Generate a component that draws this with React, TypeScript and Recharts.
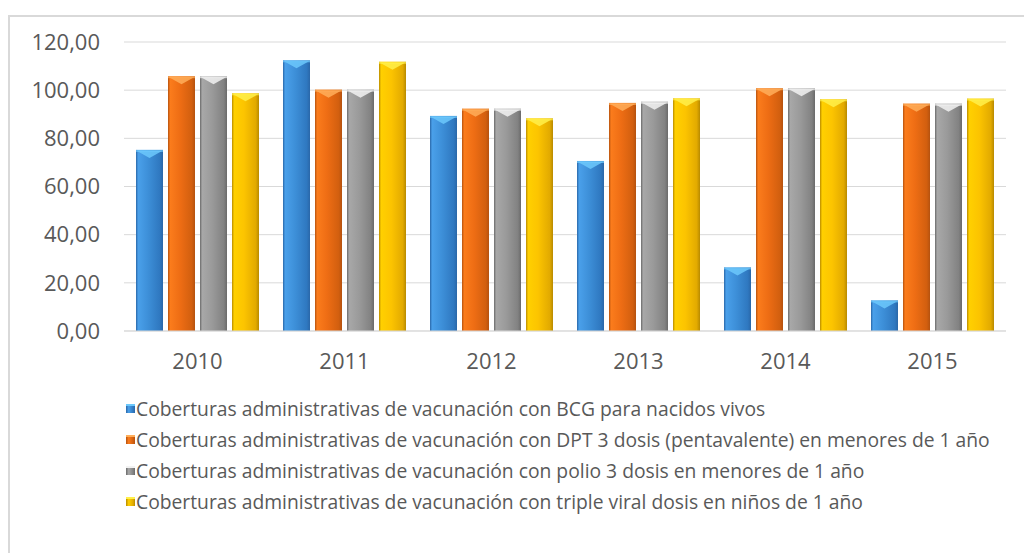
import React from 'react'
import { BarChart, Bar, XAxis, YAxis, CartesianGrid, Legend } from 'recharts'

const years = ['2010', '2011', '2012', '2013', '2014', '2015']
const bcg = [75.2, 112.4, 89.3, 70.6, 26.4, 12.7]
const dpt = [105.8, 100.2, 92.3, 94.7, 100.8, 94.4]
const polio = [105.8, 100.2, 92.3, 95.2, 100.8, 94.4]
const tripleViral = [98.7, 111.8, 88.3, 96.6, 96.2, 96.5]
const yTicks = [0, 20, 40, 60, 80, 100, 120]

const seriesNames = [
  'Coberturas administrativas de vacunación con BCG para nacidos vivos',
  'Coberturas administrativas de vacunación con DPT 3 dosis (pentavalente) en menores de 1 año',
  'Coberturas administrativas de vacunación con polio 3 dosis en menores de 1 año',
  'Coberturas administrativas de vacunación con triple viral dosis en niños de 1 año',
]

// edge, light, mid, dark, top highlight
const PALETTE = [
  { id: 'bcg', edge: '#2a67a8', light: '#4aa0ea', mid: '#3d8fd8', dark: '#2f78c0', top: '#6cc8fb' },
  { id: 'dpt', edge: '#b5520f', light: '#fb7c1c', mid: '#ee6d14', dark: '#d25f0f', top: '#ffae5a' },
  { id: 'polio', edge: '#6a6a6a', light: '#a8a8a8', mid: '#9a9a9a', dark: '#828282', top: '#f2f2f2' },
  { id: 'triple', edge: '#b88a00', light: '#ffd000', mid: '#fcc400', dark: '#e2aa00', top: '#fff04a' },
]

const data = years.map((year, i) => ({
  year,
  bcg: bcg[i],
  dpt: dpt[i],
  polio: polio[i],
  triple: tripleViral[i],
}))

const FONT = "'Open Sans', 'DejaVu Sans', sans-serif"
const TEXT = '#595959'

const fmt = (v: number) => v.toFixed(2).replace('.', ',')

function bevelBar(idx: number) {
  const c = PALETTE[idx]
  return (props: any) => {
    const { x, y, width, height } = props
    if (!height || height <= 0) return null
    const depth = Math.min(8, height)
    return (
      <g>
        <rect x={x} y={y} width={width} height={height} fill={`url(#grad-${c.id})`} />
        <polygon
          points={`${x + 1},${y + 1} ${x + width - 1},${y + 1} ${x + width / 2},${y + depth}`}
          fill={c.top}
          opacity={0.85}
        />
        <rect x={x} y={y} width={width} height={2} fill={c.top} opacity={0.7} />
      </g>
    )
  }
}

function LegendContent() {
  return (
    <div style={{ fontFamily: FONT, fontSize: 19.3, color: TEXT, paddingTop: 3 }}>
      {seriesNames.map((name, i) => (
        <div key={name} style={{ height: 31, display: 'flex', alignItems: 'center', whiteSpace: 'nowrap' }}>
          <div
            style={{
              width: 9,
              height: 9,
              marginRight: 1,
              background: `linear-gradient(to right, ${PALETTE[i].edge}, ${PALETTE[i].light} 30%, ${PALETTE[i].dark} 80%, ${PALETTE[i].edge})`,
              borderTop: `2px solid ${PALETTE[i].top}`,
              boxSizing: 'border-box',
            }}
          />
          <span>{name}</span>
        </div>
      ))}
    </div>
  )
}

export default function App() {
  return (
    <div
      style={{
        width: 1024,
        height: 538,
        marginTop: 7,
        borderTop: '2px solid #d9d9d9',
        borderLeft: '2px solid #d9d9d9',
        background: '#fff',
      }}
    >
      <BarChart
        width={1022}
        height={536}
        data={data}
        margin={{ top: 25, right: 26, left: 14, bottom: 32 }}
        barCategoryGap={12}
        barGap={5}
      >
        <defs>
          {PALETTE.map((c) => (
            <linearGradient key={c.id} id={`grad-${c.id}`} x1="0" y1="0" x2="1" y2="0">
              <stop offset="0%" stopColor={c.edge} />
              <stop offset="8%" stopColor={c.light} />
              <stop offset="45%" stopColor={c.mid} />
              <stop offset="88%" stopColor={c.dark} />
              <stop offset="100%" stopColor={c.edge} />
            </linearGradient>
          ))}
        </defs>
        <CartesianGrid vertical={false} stroke="#d9d9d9" />
        <XAxis
          dataKey="year"
          height={60}
          axisLine={{ stroke: '#d9d9d9' }}
          tickLine={false}
          tickSize={0}
          tickMargin={22}
          tick={{ fill: TEXT, fontSize: 22, fontFamily: FONT }}
        />
        <YAxis
          width={100}
          domain={[0, 120]}
          ticks={yTicks}
          axisLine={false}
          tickLine={false}
          tickSize={0}
          tickMargin={24}
          tickFormatter={fmt}
          tick={{ fill: TEXT, fontSize: 22, fontFamily: FONT }}
        />
        <Legend
          verticalAlign="bottom"
          align="left"
          content={<LegendContent />}
          wrapperStyle={{ left: 116, top: 373, width: 900, height: 130 }}
        />
        <Bar dataKey="bcg" name={seriesNames[0]} shape={bevelBar(0)} isAnimationActive={false} />
        <Bar dataKey="dpt" name={seriesNames[1]} shape={bevelBar(1)} isAnimationActive={false} />
        <Bar dataKey="polio" name={seriesNames[2]} shape={bevelBar(2)} isAnimationActive={false} />
        <Bar dataKey="triple" name={seriesNames[3]} shape={bevelBar(3)} isAnimationActive={false} />
      </BarChart>
    </div>
  )
}
